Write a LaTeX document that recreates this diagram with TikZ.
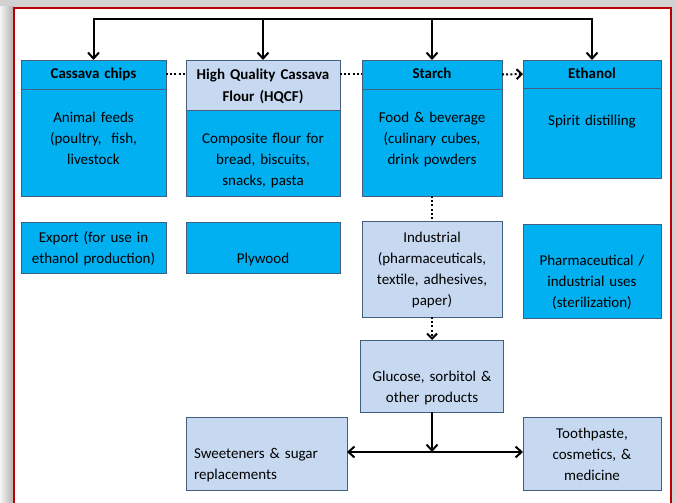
\documentclass[tikz,border=0pt]{standalone}
\usepackage{fontspec}
\setmainfont{Carlito}
\usetikzlibrary{positioning, arrows.meta}
\definecolor{cBlue}{HTML}{00B0F0}
\definecolor{cPale}{HTML}{C6D9F1}
\definecolor{cEdge}{HTML}{41607F}
\definecolor{cFrame}{HTML}{C00000}
\tikzset{
  cell/.style={
    draw=cEdge, line width=0.9pt, fill=#1, inner sep=0pt, outer sep=0pt,
    align=center, font=\fontsize{15}{21}\selectfont
  },
  headcell/.style={
    cell=#1, font=\fontsize{15}{21}\selectfont\bfseries
  },
  flow/.style={
    -{Straight Barb[length=6pt, width=11pt]}, line width=2pt
  },
  dotline/.style={
    line width=2pt, dash pattern=on 2pt off 2.2pt
  },
  dotarrow/.style={
    dotline, -{Straight Barb[length=5pt, width=10pt]}
  },
}

\begin{document}
\begin{tikzpicture}[x=1pt, y=-1pt]

% ---- Frame ----
\useasboundingbox (0,0) rectangle (675,503);
\fill[gray!35] (0,0) rectangle (675,503);
\shade[left color=gray!8, right color=gray!60] (0,7) rectangle (13,503);
\fill[white] (14,8) rectangle (671,503);
\draw[cFrame, line width=2.2pt] (14,503) -- (14,8) -- (671,8) -- (671,503);

% ---- Product columns ----
\node[headcell=cBlue, text width=145pt, text height=19pt, text depth=10pt,
      anchor=north west] (chipshead) at (21,60) {Cassava chips};
\node[cell=cBlue, text width=145pt, text height=33pt, text depth=74pt,
      below=0pt of chipshead] (chipsbody)
  {Animal feeds\\(poultry,\ \ fish,\\livestock};

\node[headcell=cPale, text width=154pt, text height=20pt, text depth=30pt,
      right=20pt of chipshead.north east, anchor=north west] (hqcfhead)
  {High Quality Cassava\\Flour (HQCF)};
\node[cell=cBlue, text width=154pt, text height=33pt, text depth=53pt,
      below=0pt of hqcfhead] (hqcfbody)
  {Composite flour for\\bread, biscuits,\\snacks, pasta};

\node[headcell=cBlue, text width=140pt, text height=19pt, text depth=10pt,
      right=22pt of hqcfhead.north east, anchor=north west] (starchhead)
  {Starch};
\node[cell=cBlue, text width=140pt, text height=33pt, text depth=74pt,
      below=0pt of starchhead] (starchbody)
  {Food \& beverage\\(culinary cubes,\\drink powders};

\node[headcell=cBlue, text width=138pt, text height=19pt, text depth=9pt,
      right=21pt of starchhead.north east, anchor=north west] (ethanolhead)
  {Ethanol};
\node[cell=cBlue, text width=138pt, text height=37pt, text depth=53pt,
      below=0pt of ethanolhead] (ethanolbody) {Spirit distilling};

% ---- Second row ----
\node[cell=cBlue, text width=145pt, text height=20pt, text depth=31pt,
      below=26pt of chipsbody] (export)
  {Export (for use in\\ethanol production)};
\node[cell=cBlue, text width=154pt, text height=41pt, text depth=10pt,
      below=26pt of hqcfbody] (plywood) {Plywood};
\node[cell=cPale, text width=140pt, text height=21pt, text depth=75pt,
      below=25pt of starchbody] (industrial)
  {Industrial\\(pharmaceuticals,\\textile, adhesives,\\paper)};
\node[cell=cBlue, text width=138pt, text height=41pt, text depth=53pt,
      below=46pt of ethanolbody] (pharma)
  {Pharmaceutical /\\industrial uses\\(sterilization)};

% ---- Starch derivatives ----
\node[cell=cPale, text width=143pt, text height=41pt, text depth=31pt,
      below=23pt of industrial] (glucose)
  {Glucose, sorbitol \&\\other products};
\node[cell=cPale, align=left, inner xsep=8pt, text width=145pt,
      text height=41pt, text depth=32pt, anchor=north west] (sweet)
  at (186,417) {Sweeteners \& sugar\\replacements};
\node[cell=cPale, text width=138pt, text height=21pt, text depth=52pt,
      anchor=north west] (tooth) at (523,417)
  {Toothpaste,\\cosmetics, \&\\medicine};

% ---- Arrows ----
% feed line along the top
\coordinate (topbar) at (0,19);
\draw[flow] (hqcfhead.north |- topbar) -| (chipshead.north);
\draw[flow] (starchhead.north |- topbar) -| (ethanolhead.north);
\draw[line width=2pt] (hqcfhead.north |- topbar) -- (starchhead.north |- topbar);
\draw[flow] (hqcfhead.north |- topbar) -- (hqcfhead.north);
\draw[flow] (starchhead.north |- topbar) -- (starchhead.north);

% dotted links between columns
\draw[dotline] (chipshead.east) -- (chipshead.east -| hqcfhead.west);
\draw[dotline] (starchhead.west -| hqcfhead.east) -- (starchhead.west);
\draw[dotarrow] (starchhead.east) -- (ethanolhead.west);

% starch chain
\draw[dotline] (starchbody.south) -- (industrial.north);
\draw[dotarrow] (industrial.south) -- (industrial.south |- glucose.north);

% glucose split
\coordinate[below=40pt of glucose.south] (split);
\draw[flow] (glucose.south) -- (split);
\draw[flow] (split) -- (split -| sweet.east);
\draw[flow] (split) -- (split -| tooth.west);

\end{tikzpicture}
\end{document}
